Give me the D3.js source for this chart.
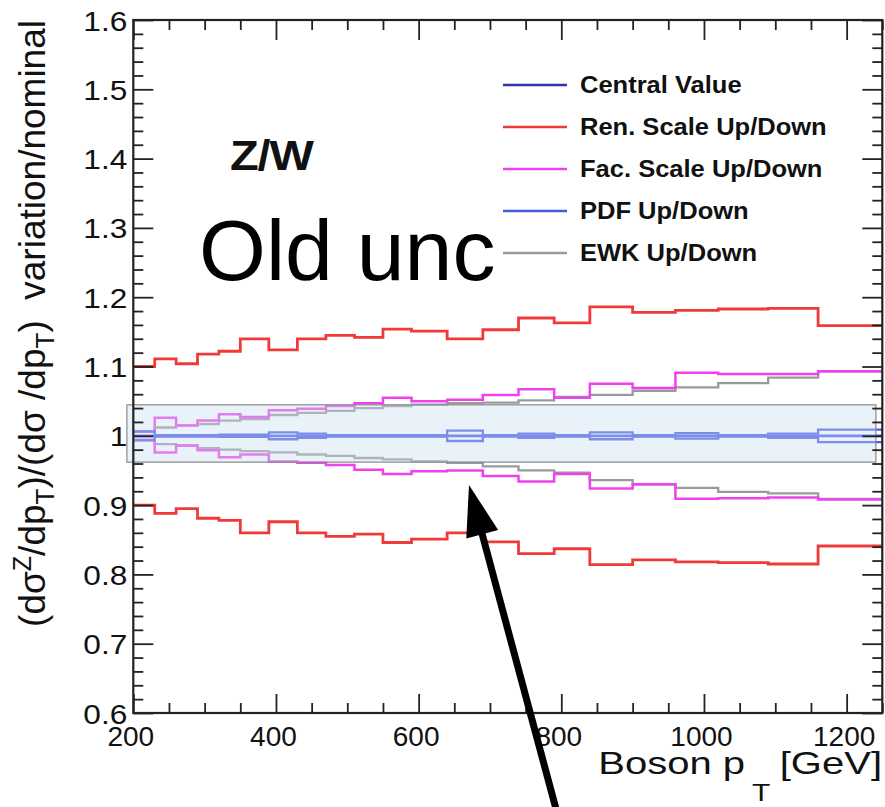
<!DOCTYPE html>
<html><head><meta charset="utf-8">
<script src="https://cdn.jsdelivr.net/npm/d3@7"></script>
<style>body{margin:0;background:#fff;} svg{display:block;font-family:"Liberation Sans",Arial,Helvetica,sans-serif;}</style>
</head><body><svg id="c" width="885" height="807"></svg>
<script>
// ---------------- data ----------------
const binEdges = [200,230,260,290,320,350,390,430,470,510,550,590,640,690,740,790,840,900,960,1020,1090,1160,1250];
const centralValue = [1,1,1,1,1,1,1,1,1,1,1,1,1,1,1,1,1,1,1,1,1,1];
const renUp   = [1.100,1.111,1.104,1.118,1.122,1.140,1.124,1.140,1.145,1.142,1.154,1.151,1.140,1.153,1.170,1.163,1.186,1.178,1.181,1.183,1.184,1.159];
const renDown = [0.900,0.888,0.895,0.881,0.878,0.860,0.876,0.860,0.855,0.858,0.846,0.851,0.860,0.847,0.830,0.837,0.814,0.821,0.818,0.817,0.815,0.841];
const facUp   = [1.006,1.026,1.015,1.022,1.031,1.027,1.037,1.039,1.043,1.047,1.055,1.050,1.052,1.059,1.067,1.055,1.075,1.069,1.091,1.089,1.089,1.093];
const facDown = [0.994,0.976,0.986,0.979,0.969,0.973,0.963,0.961,0.958,0.951,0.945,0.949,0.950,0.942,0.934,0.945,0.924,0.930,0.909,0.910,0.911,0.908];
const ewkUp   = [1.006,1.012,1.015,1.017,1.022,1.024,1.030,1.033,1.036,1.040,1.043,1.045,1.047,1.048,1.051,1.056,1.059,1.065,1.070,1.076,1.084,1.093];
const ewkDown = [0.994,0.988,0.986,0.982,0.980,0.978,0.976,0.973,0.971,0.968,0.966,0.963,0.961,0.956,0.950,0.947,0.936,0.930,0.925,0.919,0.917,0.909];
const pdfUp   = [1.0065,1.001,1.001,1.001,1.0015,1.0015,1.005,1.003,1.001,1.001,1.001,1.001,1.0075,1.001,1.003,1.001,1.005,1.001,1.004,1.001,1.003,1.009];
const pdfDown = [0.9935,0.999,0.999,0.999,0.9985,0.9985,0.995,0.997,0.999,0.999,0.999,0.999,0.9925,0.999,0.997,0.999,0.995,0.999,0.996,0.999,0.997,0.991];
const xTickValues = [200,400,600,800,1000,1200];
const xTickLabels = ["200","400","600","800","1000","1200"];
const yTickValues = [0.6,0.7,0.8,0.9,1.0,1.1,1.2,1.3,1.4,1.5,1.6];
const yTickLabels = ["0.6","0.7","0.8","0.9","1","1.1","1.2","1.3","1.4","1.5","1.6"];
const legendLabels = ["Central Value","Ren. Scale Up/Down","Fac. Scale Up/Down","PDF Up/Down","EWK Up/Down"];
// annotation box (data coords) and arrow (data coords)
const bandX = [191, 1241];
const bandY = [0.962, 1.0447];
const arrowTip = [670.6, 0.929];
const arrowTail = [793, 0.46];

// ---------------- styles ----------------
const colors = {central:"#2e35a8", ren:"#f03a3a", fac:"#f040f0", pdf:"#4a5ae6", ewk:"#9a9a9a"};
const legendColors = [colors.central, colors.ren, colors.fac, colors.pdf, colors.ewk];

const svg = d3.select("#c");
const m = {l:133.3, r:882.3, t:20, b:713};
const x = d3.scaleLinear().domain([200,1250]).range([m.l,m.r]);
const y = d3.scaleLinear().domain([0.6,1.6]).range([m.b,m.t]);

const step = d3.line().curve(d3.curveStepAfter).x(d=>x(d[0])).y(d=>y(d[1]));
const pts = vals => binEdges.map((e,i)=>[e, vals[Math.min(i, vals.length-1)]]);

const gLines = svg.append("g");
function drawSeries(vals, col, w){
  gLines.append("path").attr("d", step(pts(vals))).attr("fill","none")
    .attr("stroke", col).attr("stroke-width", w).attr("stroke-linejoin","miter");
}
drawSeries(ewkUp, colors.ewk, 2.3);
drawSeries(ewkDown, colors.ewk, 2.3);
drawSeries(facUp, colors.fac, 2.5);
drawSeries(facDown, colors.fac, 2.5);
drawSeries(renUp, colors.ren, 2.8);
drawSeries(renDown, colors.ren, 2.8);
drawSeries(pdfUp, colors.pdf, 2.3);
drawSeries(pdfDown, colors.pdf, 2.3);
drawSeries(centralValue, colors.pdf, 2.8);

// annotation band
svg.append("rect")
  .attr("x", x(bandX[0])).attr("y", y(bandY[1]))
  .attr("width", x(bandX[1]) - x(bandX[0])).attr("height", y(bandY[0]) - y(bandY[1]))
  .attr("fill", "#c9dcef").attr("fill-opacity", 0.4)
  .attr("stroke", "#8a8a8a").attr("stroke-width", 1.2);

// ---------------- axes ----------------
const axCol = "#222";
function styleAxis(g){
  g.select(".domain").remove();
  g.selectAll(".tick line").attr("stroke", axCol).attr("stroke-width", 1.8);
  g.selectAll("text").attr("font-size", 28).attr("fill", "#111")
    .attr("font-family", '"Liberation Sans",Arial,sans-serif');
}
const yMinor = d3.range(0.6, 1.6001, 0.02).filter(v => Math.abs(Math.round(v*10) - v*10) > 1e-6);
const xMinor = d3.range(200, 1250.1, 50).filter(v => v % 200 !== 0);

// left
svg.append("g").attr("transform", `translate(${m.l},0)`)
  .call(d3.axisLeft(y).tickValues(yTickValues).tickSizeInner(-20).tickSizeOuter(0).tickPadding(6)
    .tickFormat((d,i)=>yTickLabels[i]))
  .call(styleAxis)
  .call(g=>g.selectAll("text").attr("dy","0.36em").attr("x",0)
    .attr("transform","translate(-6,0) scale(1.13,1)"));
svg.append("g").attr("transform", `translate(${m.l},0)`)
  .call(d3.axisLeft(y).tickValues(yMinor).tickSizeInner(-10).tickSizeOuter(0).tickFormat(""))
  .call(styleAxis);
// right
svg.append("g").attr("transform", `translate(${m.r},0)`)
  .call(d3.axisRight(y).tickValues(yTickValues).tickSizeInner(-20).tickSizeOuter(0).tickFormat(""))
  .call(styleAxis);
svg.append("g").attr("transform", `translate(${m.r},0)`)
  .call(d3.axisRight(y).tickValues(yMinor).tickSizeInner(-10).tickSizeOuter(0).tickFormat(""))
  .call(styleAxis);
// bottom
svg.append("g").attr("transform", `translate(0,${m.b})`)
  .call(d3.axisBottom(x).tickValues(xTickValues).tickSizeInner(-19).tickSizeOuter(0).tickPadding(13)
    .tickFormat((d,i)=>xTickLabels[i]))
  .call(styleAxis)
  .call(g=>g.selectAll("text").attr("dx", -3));
svg.append("g").attr("transform", `translate(0,${m.b})`)
  .call(d3.axisBottom(x).tickValues(xMinor).tickSizeInner(-10).tickSizeOuter(0).tickFormat(""))
  .call(styleAxis);
// top
svg.append("g").attr("transform", `translate(0,${m.t})`)
  .call(d3.axisTop(x).tickValues(xTickValues).tickSizeInner(-20).tickSizeOuter(0).tickFormat(""))
  .call(styleAxis);
svg.append("g").attr("transform", `translate(0,${m.t})`)
  .call(d3.axisTop(x).tickValues(xMinor).tickSizeInner(-10).tickSizeOuter(0).tickFormat(""))
  .call(styleAxis);
// frame
svg.append("rect").attr("x", m.l).attr("y", m.t).attr("width", m.r-m.l).attr("height", m.b-m.t)
  .attr("fill","none").attr("stroke", axCol).attr("stroke-width", 2.2);

// ---------------- axis titles ----------------
const yt = svg.append("text")
  .attr("transform", `translate(45,20) rotate(-90)`)
  .attr("text-anchor","end").attr("font-size", 37).attr("fill","#111");
yt.append("tspan").text("(d\u03c3");
yt.append("tspan").attr("font-size", 25).attr("baseline-shift", "55%").text("Z");
yt.append("tspan").text("/dp");
yt.append("tspan").attr("font-size", 26).attr("baseline-shift", "-35%").text("T");
yt.append("tspan").text(")/(d\u03c3 /dp");
yt.append("tspan").attr("font-size", 26).attr("baseline-shift", "-35%").text("T");
yt.append("tspan").attr("xml:space","preserve").style("white-space","pre").text(")  variation/nominal");

const xt = svg.append("g").attr("transform", `translate(882,774) scale(1.25,1)`);
xt.append("text").attr("text-anchor","end").attr("font-size", 32).attr("fill","#111").text("[GeV]");
xt.append("text").attr("x", -109.6).attr("text-anchor","end").attr("font-size", 32).attr("fill","#111").text("Boson p");
xt.append("text").attr("x", -104).attr("y", 27).attr("font-size", 24).attr("fill","#111").text("T");

// ---------------- legend ----------------
const lg = svg.append("g");
legendLabels.forEach((lab,i)=>{
  const cy = 85 + i*42;
  lg.append("line").attr("x1", 503).attr("x2", 567).attr("y1", cy).attr("y2", cy)
    .attr("stroke", legendColors[i]).attr("stroke-width", 2.6);
  lg.append("text").attr("transform", `translate(580,${cy+8}) scale(1.11,1)`)
    .attr("font-size", 23).attr("font-weight","bold").attr("fill","#111").text(lab);
});

// ---------------- labels ----------------
svg.append("text").attr("transform", "translate(230,170) scale(1.12,1)")
  .attr("font-size", 42).attr("font-weight","bold").attr("fill","#111").attr("letter-spacing", -1).text("Z/W");
svg.append("text").attr("x", 199).attr("y", 280).attr("font-size", 86).attr("fill","#000").text("Old unc");

// ---------------- arrow ----------------
const tip = [x(arrowTip[0]), y(arrowTip[1])];
const tail = [x(arrowTail[0]), y(arrowTail[1])];
const dx = tip[0]-tail[0], dy = tip[1]-tail[1], L = Math.hypot(dx,dy);
const u = [dx/L, dy/L], n = [-u[1], u[0]];
const headLen = 51, headHalf = 16.5;
const base = [tip[0]-u[0]*headLen, tip[1]-u[1]*headLen];
svg.append("line").attr("x1", tail[0]).attr("y1", tail[1]).attr("x2", base[0]+u[0]*2).attr("y2", base[1]+u[1]*2)
  .attr("stroke","#000").attr("stroke-width", 7);
svg.append("path").attr("d", d3.line()([tip, [base[0]+n[0]*headHalf, base[1]+n[1]*headHalf], [base[0]-n[0]*headHalf, base[1]-n[1]*headHalf]]) + "Z")
  .attr("fill","#000");
</script></body></html>
